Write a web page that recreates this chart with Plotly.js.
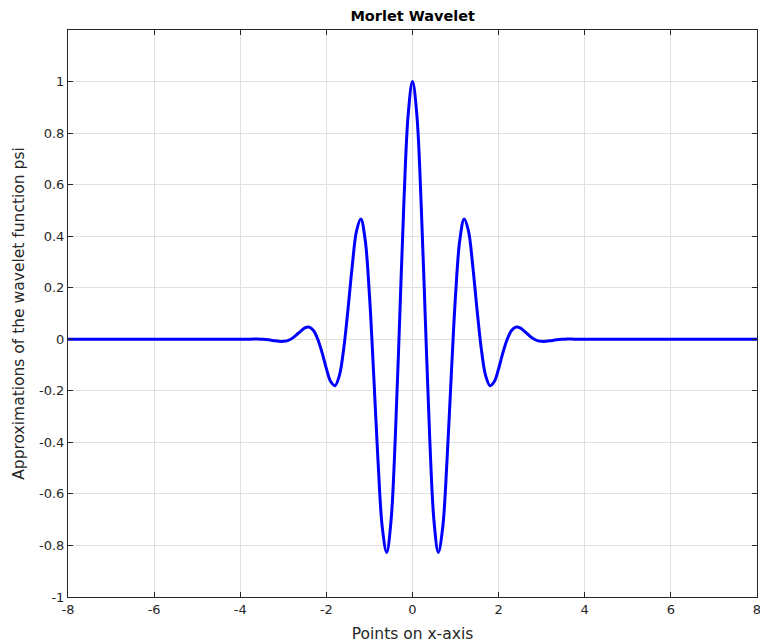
<!DOCTYPE html>
<html>
<head>
<meta charset="utf-8">
<script src="https://cdn.plot.ly/plotly-3.0.1.min.js"></script>
<style>html,body{margin:0;padding:0;background:#fff;}#chart{width:760px;height:643px;}</style>
</head>
<body>
<div id="chart"></div>
<script>
// Points on x-axis
const xPoints = [-8,-7,-6,-5,-4,
 -3.9,-3.8,-3.7,-3.6,-3.5,-3.4,-3.3,-3.2,-3.1,-3.0,
 -2.9,-2.8,-2.7,-2.6,-2.5,-2.4,-2.3,-2.2,-2.1,-2.0,
 -1.9,-1.8,-1.7,-1.6,-1.5,-1.4,-1.3,-1.2,-1.1,-1.0,
 -0.9,-0.8,-0.7,-0.6,-0.5,-0.4,-0.3,-0.2,-0.1,0,
 0.1,0.2,0.3,0.4,0.5,0.6,0.7,0.8,0.9,1.0,
 1.1,1.2,1.3,1.4,1.5,1.6,1.7,1.8,1.9,2.0,
 2.1,2.2,2.3,2.4,2.5,2.6,2.7,2.8,2.9,3.0,
 3.1,3.2,3.3,3.4,3.5,3.6,3.7,3.8,3.9,
 4,5,6,7,8];
// Approximations of psi
const psiValues = [0,0,0,0,0,
 0.000,0.000,0.001,0.001,0.000,-0.001,-0.003,-0.006,-0.008,-0.008,
 -0.005,0.003,0.016,0.031,0.044,0.047,0.034,0.000,-0.052,-0.114,
 -0.164,-0.180,-0.142,-0.040,0.113,0.283,0.420,0.467,0.387,0.172,
 -0.141,-0.475,-0.733,-0.827,-0.707,-0.384,0.068,0.530,0.873,1.000,
 0.873,0.530,0.068,-0.384,-0.707,-0.827,-0.733,-0.475,-0.141,0.172,
 0.387,0.467,0.420,0.283,0.113,-0.040,-0.142,-0.180,-0.164,-0.114,
 -0.052,0.000,0.034,0.047,0.044,0.031,0.016,0.003,-0.005,-0.008,
 -0.008,-0.006,-0.003,-0.001,0.000,0.001,0.001,0.000,0.000,
 0,0,0,0,0];
const xTickVals = [-8,-6,-4,-2,0,2,4,6,8];
const xTickText = ["-8","-6","-4","-2","0","2","4","6","8"];
const yTickVals = [-1,-0.8,-0.6,-0.4,-0.2,0,0.2,0.4,0.6,0.8,1];
const yTickText = ["-1","-0.8","-0.6","-0.4","-0.2","0","0.2","0.4","0.6","0.8","1"];

const FONT = 'DejaVu Sans, Liberation Sans, Arial, sans-serif';
const trace = {
  x: xPoints, y: psiValues, type: 'scatter', mode: 'lines',
  line: {color: '#0000ff', width: 3, shape: 'spline', smoothing: 1},
  hoverinfo: 'skip'
};
const axisCommon = {
  showline: true, mirror: 'ticks', linecolor: '#262626', linewidth: 1,
  ticks: 'inside', ticklen: 5, tickcolor: '#262626', tickwidth: 1,
  showgrid: true, gridcolor: '#e0e0e0', gridwidth: 1, zeroline: false,
  tickfont: {family: FONT, size: 13, color: '#262626'},
  tickmode: 'array', ticklabeloverflow: 'allow'
};
const layout = {
  width: 760, height: 643,
  margin: {l: 68, r: 3, t: 30, b: 46},
  paper_bgcolor: '#ffffff', plot_bgcolor: '#ffffff',
  showlegend: false,
  title: {text: '<b>Morlet Wavelet</b>', x: 0.543, xanchor: 'center', y: 0.975, yanchor: 'middle',
    font: {family: FONT, size: 14.5, color: '#000000'}},
  xaxis: Object.assign({}, axisCommon, {
    range: [-8, 8], tickvals: xTickVals, ticktext: xTickText,
    title: {text: 'Points on x-axis', standoff: 12,
      font: {family: FONT, size: 15.5, color: '#262626'}}
  }),
  yaxis: Object.assign({}, axisCommon, {
    range: [-1, 1.2], tickvals: yTickVals, ticktext: yTickText,
    title: {text: 'Approximations of the wavelet function psi', standoff: 10,
      font: {family: FONT, size: 15.5, color: '#262626'}}
  })
};
Plotly.newPlot('chart', [trace], layout, {displayModeBar: false, staticPlot: true});
</script>
</body>
</html>
